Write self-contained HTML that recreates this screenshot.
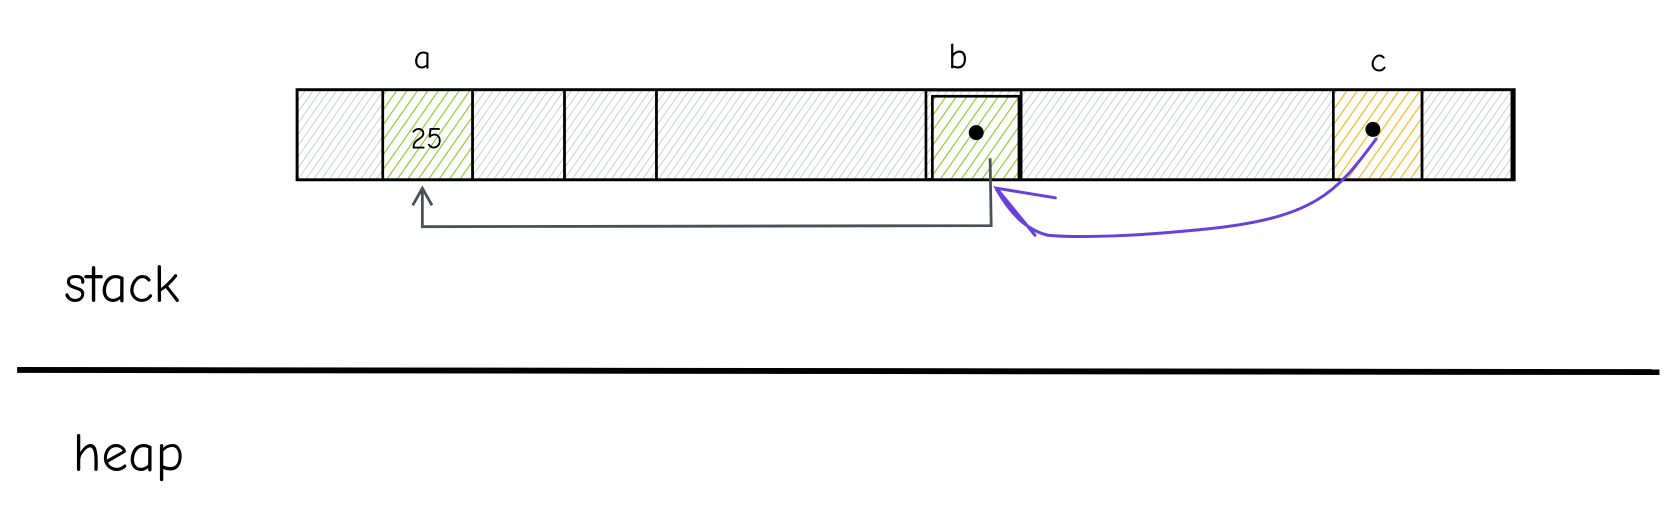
<!DOCTYPE html>
<html><head><meta charset="utf-8"><style>
html,body{margin:0;padding:0;background:#fff;}
svg{display:block;}
text{font-family:"Comic Neue","Liberation Sans",sans-serif;}
</style></head><body>
<svg width="1668" height="509" viewBox="0 0 1560 476">
<defs>
<pattern id="hg" patternUnits="userSpaceOnUse" width="6" height="6" patternTransform="rotate(35)">
<line x1="0" y1="0" x2="0" y2="6" stroke="#c9cdd2" stroke-width="1.8"/></pattern>
<pattern id="hgr" patternUnits="userSpaceOnUse" width="8" height="8" patternTransform="rotate(35)">
<line x1="0" y1="0" x2="0" y2="8" stroke="#82c91e" stroke-width="2"/></pattern>
<pattern id="ho" patternUnits="userSpaceOnUse" width="8" height="8" patternTransform="rotate(35)">
<line x1="0" y1="0" x2="0" y2="8" stroke="#fab005" stroke-width="2"/></pattern>
</defs>
<g id="cells"></g>
<text x="395" y="64" font-size="32" text-anchor="middle">a</text>
<text x="896" y="64" font-size="34" text-anchor="middle">b</text>
<text x="1289" y="67" font-size="32" text-anchor="middle">c</text>
<text x="399" y="139" font-size="28" text-anchor="middle">25</text>
<circle cx="913" cy="124" r="7" fill="#000"/>
<circle cx="1284" cy="121" r="7" fill="#000"/>
<path d="M926 148 L927 211 L395 212 L395 176 M386 192 L395 176 L404 192" fill="none" stroke="#495057" stroke-width="2.6"/>
<path d="M1287 130 C1250 180 1230 205 1120 215 C1050 222 1000 222 980 220 C960 215 945 200 932 177 M987 185 L932 176 L968 220" fill="none" stroke="#6741d9" stroke-width="2.8" stroke-linecap="round"/>
<text x="60" y="282" font-size="50">stack</text>
<line x1="16" y1="346" x2="1552" y2="348" stroke="#000" stroke-width="5.5"/>
<text x="68" y="440" font-size="50">heap</text>
</svg>
<script>
const cellStarts=[278,358,442,528,614,872,955,1247,1330];
const cellEnds=[358,442,528,614,866,953,1247,1330,1414];
const cellFills=['hg','hgr','hg','hg','hg','hgr','hg','ho','hg'];
const g=document.getElementById('cells');
const ns='http://www.w3.org/2000/svg';
const outer=document.createElementNS(ns,'rect');
outer.setAttribute('x',278);outer.setAttribute('y',84);outer.setAttribute('width',1138);outer.setAttribute('height',84);
outer.setAttribute('fill','url(#hg)');outer.setAttribute('stroke','#000');outer.setAttribute('stroke-width',3);


g.appendChild(outer);
cellStarts.forEach((s,i)=>{
 const top=i===5?90:84;
 const r=document.createElementNS(ns,'rect');
 r.setAttribute('x',s);r.setAttribute('y',top);r.setAttribute('width',cellEnds[i]-s);r.setAttribute('height',168-top);
 r.setAttribute('fill','#fff');
 g.appendChild(r);
 const r2=document.createElementNS(ns,'rect');
 r2.setAttribute('x',s);r2.setAttribute('y',top);r2.setAttribute('width',cellEnds[i]-s);r2.setAttribute('height',168-top);
 r2.setAttribute('fill','url(#'+cellFills[i]+')');r2.setAttribute('stroke','#000');r2.setAttribute('stroke-width',2.5);
 
 
 g.appendChild(r2);
});
</script>
</body></html>
